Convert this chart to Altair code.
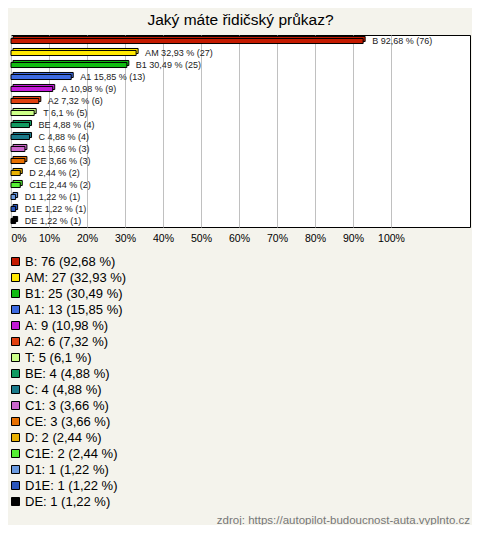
import altair as alt
import pandas as pd

categories = ["B", "AM", "B1", "A1", "A", "A2", "T", "BE", "C", "C1", "CE", "D", "C1E", "D1", "D1E", "DE"]
counts = [76, 27, 25, 13, 9, 6, 5, 4, 4, 3, 3, 2, 2, 1, 1, 1]
percents = [92.68, 32.93, 30.49, 15.85, 10.98, 7.32, 6.1, 4.88, 4.88, 3.66, 3.66, 2.44, 2.44, 1.22, 1.22, 1.22]
colors = ["#c41a00", "#ffe800", "#11bb11", "#3d6ae0", "#c21ad6", "#e04010", "#ccff88", "#109a60",
          "#1a7a8a", "#cc66cc", "#e87000", "#e8b000", "#55ee33", "#6a9ae0", "#2a55bb", "#000000"]
x_ticks = [0, 10, 20, 30, 40, 50, 60, 70, 80, 90, 100]

title_text = "Jaký máte řidičský průkaz?"
source_text = "zdroj: https://autopilot-budoucnost-auta.vyplnto.cz"


def fmt(p):
    return f"{p:g}".replace(".", ",")

df = pd.DataFrame({
    "cat": categories,
    "count": counts,
    "pct": percents,
})
df["label"] = [f"{c} {fmt(p)} % ({n})" for c, p, n in zip(categories, percents, counts)]
df["leg"] = [f"{c}: {n} ({fmt(p)} %)" for c, p, n in zip(categories, percents, counts)]
leg_domain = list(df["leg"])

FONT = "Liberation Sans"

x_enc = alt.X("pct:Q", scale=alt.Scale(domain=[0, 120.8], nice=False, zero=True),
              axis=alt.Axis(values=x_ticks, labelExpr="datum.value + '%'", title=None,
                            ticks=False, domain=False, grid=True, gridColor="#c0c0c0",
                            labelFontSize=10.5, labelColor="#000", labelFont=FONT,
                            labelPadding=6, labelFlush=True))
y_enc = alt.Y("cat:N", sort=categories,
              scale=alt.Scale(paddingInner=0.58, paddingOuter=0.29),
              axis=None)
color_enc = alt.Color("leg:N", scale=alt.Scale(domain=leg_domain, range=colors),
                      legend=alt.Legend(orient="none", legendX=-2, legendY=220, title=None,
                                        symbolType="square", symbolSize=64,
                                        symbolStrokeColor="#000", symbolStrokeWidth=1,
                                        symbolOpacity=1,
                                        labelFontSize=13, labelFont=FONT, labelColor="#000",
                                        rowPadding=2, labelOffset=3, labelLimit=400))

base = alt.Chart(df)

back = base.mark_bar(stroke="#000", strokeWidth=1, xOffset=2, yOffset=-2, opacity=1).encode(
    x=x_enc, y=y_enc, color=color_enc
)
front = base.mark_bar(stroke="#000", strokeWidth=1, opacity=1).encode(
    x=x_enc, y=y_enc, color=color_enc
)
labels = base.mark_text(align="left", baseline="middle", dx=9, fontSize=9, font=FONT, color="#222").encode(
    x="pct:Q", y=alt.Y("cat:N", sort=categories), text="label:N"
)

extra = pd.DataFrame({"t": [source_text], "title": [title_text]})
title = alt.Chart(extra).mark_text(align="center", baseline="middle", fontSize=15.5, font=FONT,
                                   color="#000").encode(
    x=alt.value(229.5), y=alt.value(-15), text="title:N"
)
footer = alt.Chart(extra).mark_text(align="right", baseline="middle", fontSize=11.5, font=FONT,
                                    color="#777").encode(
    x=alt.value(459), y=alt.value(486), text="t:N"
)

chart = alt.layer(back, front, labels, title, footer).properties(
    width=459, height=192,
    autosize=alt.AutoSizeParams(type="none"),
    padding={"left": 3, "top": 27, "right": 2, "bottom": 298},
).configure(background="#f4f3ec").configure_view(stroke="#000", strokeWidth=1, fill="#ffffff")

chart.save("out.html", embed_options={"renderer": "svg", "actions": False})
